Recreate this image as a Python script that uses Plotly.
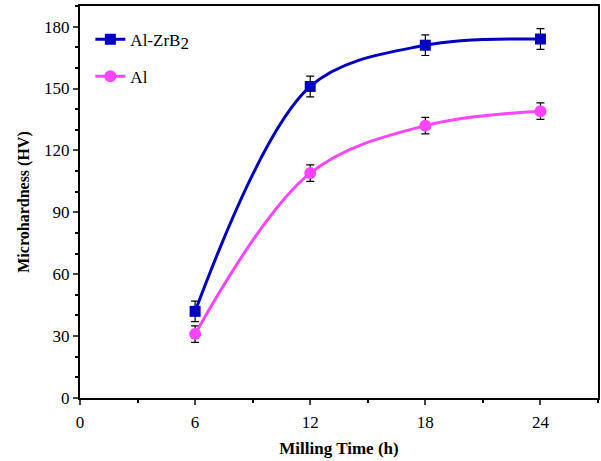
import plotly.graph_objects as go

# Milling time (h) and measured microhardness (HV)
milling_time = [6, 12, 18, 24]
al_zrb2 = [42, 151, 171, 174]
al_zrb2_err = [5, 5, 5, 5]
al = [31, 109, 132, 139]
al_err = [4, 4, 4, 4]

x_ticks = [0, 6, 12, 18, 24]
y_ticks = [0, 30, 60, 90, 120, 150, 180]

serif = "Liberation Serif, Times New Roman, serif"

fig = go.Figure()
fig.add_trace(go.Scatter(
    x=milling_time, y=al_zrb2,
    name="Al-ZrB<sub><span style=\"font-size:17px\">2</span></sub>", legendgroup="a",
    mode="lines+markers",
    line=dict(color="#0000C0", width=3, shape="spline", smoothing=0.95),
    marker=dict(symbol="square", size=11, color="#0000C0"),
    error_y=dict(type="data", array=al_zrb2_err, color="black", thickness=1.2, width=4),
))
fig.add_trace(go.Scatter(
    x=milling_time, y=al, name="Al", legendgroup="b",
    mode="lines+markers",
    line=dict(color="#FF44FF", width=3, shape="spline", smoothing=1.0),
    marker=dict(symbol="circle", size=12, color="#FF44FF"),
    error_y=dict(type="data", array=al_err, color="black", thickness=1.2, width=4),
))

fig.update_layout(
    width=601, height=461,
    margin=dict(l=80, r=1, t=6, b=63),
    paper_bgcolor="white", plot_bgcolor="white",
    font=dict(family=serif, size=15, color="black"),
    showlegend=True,
    legend=dict(x=0.02, y=0.96, xanchor="left", yanchor="top",
                bgcolor="rgba(0,0,0,0)", tracegroupgap=12,
                font=dict(family=serif, size=17)),
    xaxis=dict(
        range=[0, 27], tickvals=x_ticks, ticks="outside", ticklen=5, tickwidth=1.5,
        showline=True, linecolor="black", linewidth=2, mirror=True,
        showgrid=False, zeroline=False, ticklabelstandoff=3,
        minor=dict(ticks="outside", dtick=3, ticklen=3, tickwidth=1.5, tickcolor="black"),
        title=dict(text="<b>Milling Time (h)</b>", font=dict(family=serif, size=17), standoff=11),
        tickfont=dict(family=serif, size=17),
    ),
    yaxis=dict(
        range=[0, 190], tickvals=y_ticks, ticks="outside", ticklen=5, tickwidth=1.5,
        showline=True, linecolor="black", linewidth=2, mirror=True,
        showgrid=False, zeroline=False,
        minor=dict(ticks="outside", dtick=10, ticklen=3, tickwidth=1.5, tickcolor="black"),
        title=dict(text="<b>Microhardness (HV)</b>", font=dict(family=serif, size=16), standoff=10),
        tickfont=dict(family=serif, size=17),
    ),
)

fig.write_html("out.html")
